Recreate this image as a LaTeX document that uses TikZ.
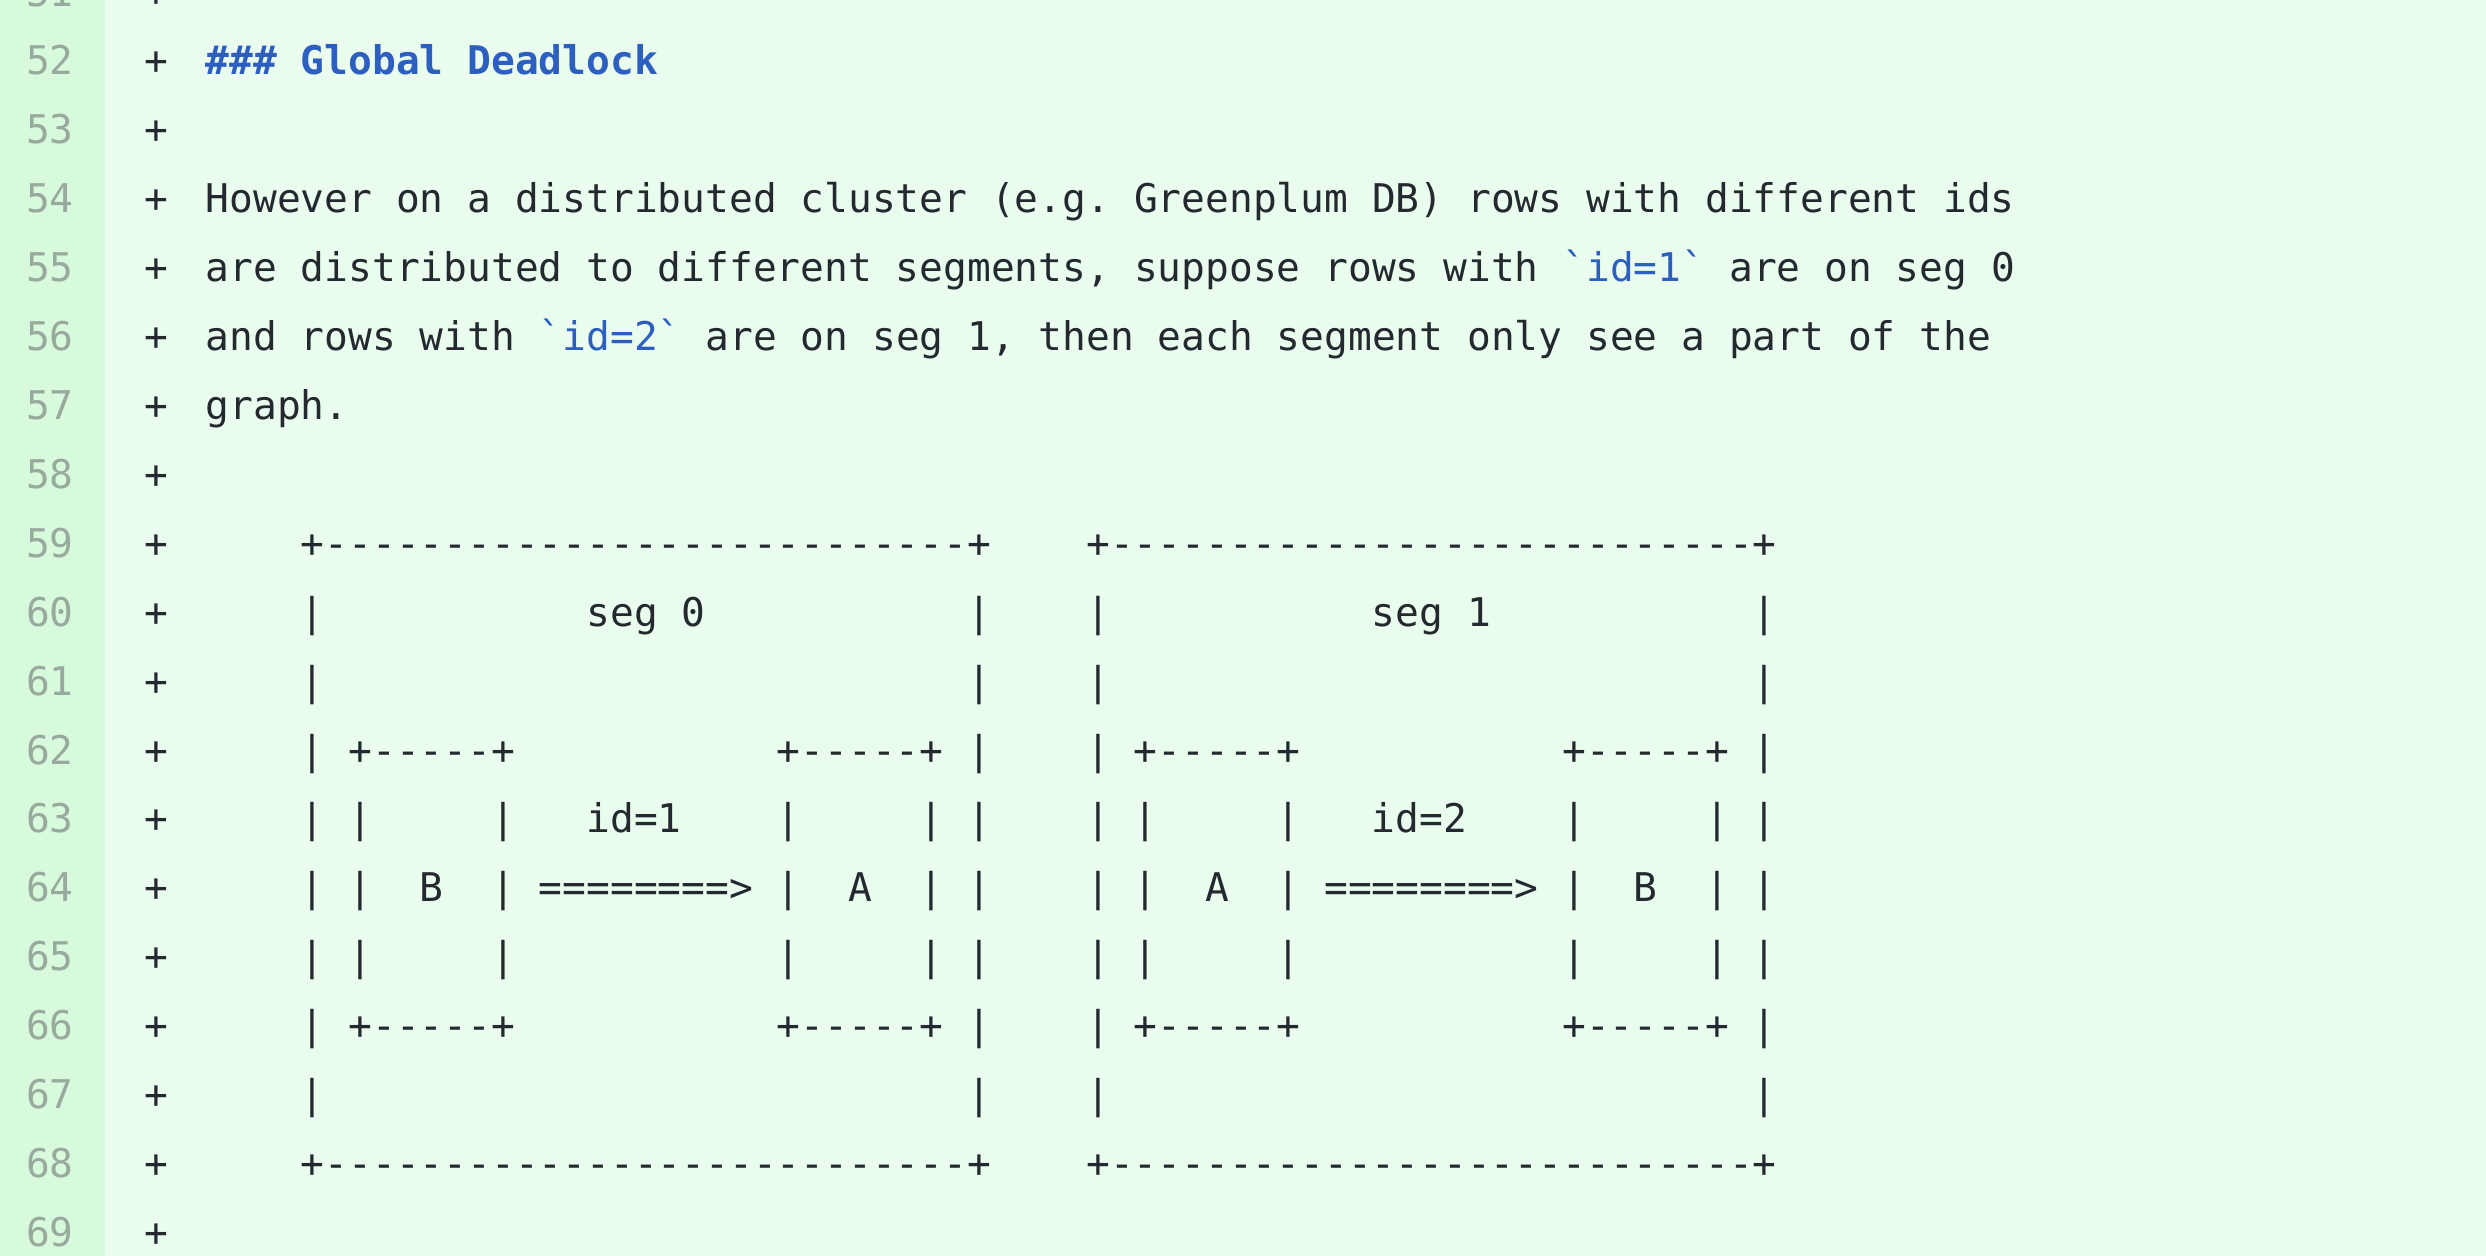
\documentclass[tikz,border=0pt]{standalone}
\usepackage{fontspec}
\setmonofont{DejaVu Sans Mono}
\usepackage{tikz}
\definecolor{gutterG}{HTML}{D7FADC}
\definecolor{lineG}{HTML}{E9FCED}
\definecolor{inkD}{HTML}{24292F}
\definecolor{numG}{HTML}{98AA9E}
\definecolor{mdBlue}{HTML}{2C5FBF}

% column / line helpers (cm)
\newcommand\colx[1]{2.05+0.238*(#1)}
\newcommand\rowy[1]{-0.75-0.689*(#1-52)}

\begin{document}
\begin{tikzpicture}[
    font=\ttfamily\fontsize{11.25pt}{13pt}\selectfont\frenchspacing,
    code/.style={anchor=base west,inner sep=0pt,text=inkD},
    lnum/.style={anchor=base east,inner sep=0pt,text=numG},
    plusmark/.style={anchor=base,inner sep=0pt,text=inkD},
]
\useasboundingbox (0,0) rectangle (24.86,-12.56);
\clip (0,0) rectangle (24.86,-12.56);

% =====================================================================
%  diff background
% =====================================================================
\fill[lineG] (0,0) rectangle (24.86,-12.56);
\fill[gutterG] (0,0) rectangle (1.05,-12.56);

% line numbers and added-line markers
\foreach \n in {51,...,69} {
   \node[lnum] (ln\n) at (0.745,{\rowy{\n}}) {\n};
   \node[plusmark] (pm\n) at (1.56,{\rowy{\n}}) {+};
}

% =====================================================================
%  text lines
% =====================================================================
\node[code,text=mdBlue] (head) at ({\colx{0}},{\rowy{52}})
     {\bfseries\#\#\# Global Deadlock};
\node[code] (p54) at ({\colx{0}},{\rowy{54}})
     {However on a distributed cluster (e.g. Greenplum DB) rows with different ids};
\node[code] (p55) at ({\colx{0}},{\rowy{55}})
     {are distributed to different segments, suppose rows with \textcolor{mdBlue}{`id=1`} are on seg 0};
\node[code] (p56) at ({\colx{0}},{\rowy{56}})
     {and rows with \textcolor{mdBlue}{`id=2`} are on seg 1, then each segment only see a part of the};
\node[code] (p57) at ({\colx{0}},{\rowy{57}}) {graph.};

% =====================================================================
%  ascii boxes: one per segment (offset in columns)
% =====================================================================
\foreach \o/\s/\l/\r/\k in {0/0/B/A/1,33/1/A/B/2} {
   \node[code] (top\s) at ({\colx{\o+4}},{\rowy{59}}) {+---------------------------+};
   \node[code] (bot\s) at ({\colx{\o+4}},{\rowy{68}}) {+---------------------------+};
   \foreach \n in {60,...,67} {
      \node[code] (lw\s-\n) at ({\colx{\o+4}},{\rowy{\n}}) {|};
      \node[code] (rw\s-\n) at ({\colx{\o+32}},{\rowy{\n}}) {|};
   }
   \node[code] (seg\s) at ({\colx{\o+16}},{\rowy{60}}) {seg \s};

   % inner boxes
   \foreach \c/\b in {6/p,24/q} {
      \node[code] (\b top\s) at ({\colx{\o+\c}},{\rowy{62}}) {+-----+};
      \node[code] (\b bot\s) at ({\colx{\o+\c}},{\rowy{66}}) {+-----+};
      \foreach \n in {63,64,65} {
         \node[code] (\b l\s-\n) at ({\colx{\o+\c}},{\rowy{\n}}) {|};
         \node[code] (\b r\s-\n) at ({\colx{\o+\c+6}},{\rowy{\n}}) {|};
      }
   }
   \node[code] (id\s)  at ({\colx{\o+16}},{\rowy{63}}) {id=\k};
   \node[code] (src\s) at ({\colx{\o+9}},{\rowy{64}})  {\l};
   \node[code] (arr\s) at ({\colx{\o+14}},{\rowy{64}}) {========>};
   \node[code] (dst\s) at ({\colx{\o+27}},{\rowy{64}}) {\r};
}

\end{tikzpicture}
\end{document}
